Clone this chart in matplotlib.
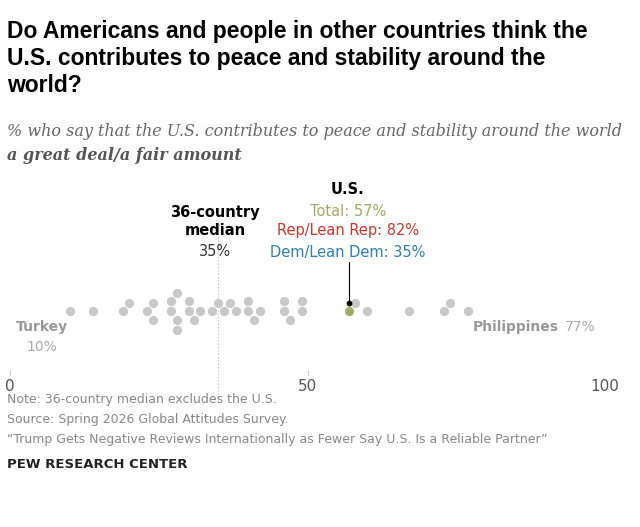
import matplotlib
matplotlib.use("Agg")
import matplotlib.pyplot as plt
import numpy as np

countries_vals = [10,14,19,24,27,30,32,35,38,40,42,46,49,60,67,73,77,
                  20,31,34,36,41,58,74,
                  24,27,46,49,
                  28,
                  23,28,30,37,40,47,
                  28]
us_total = 57
us_rep = 82
us_dem = 35
median = 35
ticks = [0, 50, 100]

W, H = 640, 527
fig = plt.figure(figsize=(W/100, H/100), dpi=100)
def fx(px): return px / W
def fy(py): return 1 - py / H

# axes: x px 10..605, y px 170..376 (baseline)
ax = fig.add_axes([fx(10), fy(376), fx(595), (376-170)/H])
ax.set_xlim(0, 100)
ax.set_ylim(0, 206)
ax.axis("off")
pxu = 5.95
base = 65
d = 10.0
placed = [(us_total*pxu, 0.0)]
pos = []
for v in sorted(countries_vals):
    x = v*pxu
    cands = sorted(set([0.0] + [s*k*0.5 for k in range(1, 100) for s in (1, -1)]), key=abs)
    for c in cands:
        if all((x-px)**2 + (c-py)**2 >= d*d for px, py in placed):
            placed.append((x, c)); pos.append((v, c)); break
ax.scatter([p[0] for p in pos], [base + p[1] for p in pos], s=44, color="#c8c8c8", lw=0, zorder=2)
ax.scatter([us_total], [base], s=44, color="#a3ad62", lw=0, zorder=3)
ax.plot([us_total, us_total], [base+8, 114], color="black", lw=0.8)
ax.scatter([us_total], [base+8], s=10, color="black", zorder=4)
ax.plot([median, median], [-25, 155], color="#bbbbbb", lw=0.8, ls=(0, (1, 2)), zorder=1, clip_on=False)
ax.axhline(0, color="#cccccc", lw=0.8)
for t in ticks:
    ax.plot([t, t], [0, 5], color="#cccccc", lw=0.8)
    ax.text(t, -3, str(t), ha="center", va="top", fontsize=11, color="#555555")

gray = "#999999"
fig.text(fx(42), fy(327), "Turkey", fontsize=10, fontweight="bold", color=gray, ha="center", va="center")
fig.text(fx(42), fy(347), "10%", fontsize=10, color="#aaaaaa", ha="center", va="center")
fig.text(fx(473), fy(327), "Philippines", fontsize=10, fontweight="bold", color=gray, ha="left", va="center")
fig.text(fx(596), fy(327), "77%", fontsize=10, color="#aaaaaa", ha="right", va="center")
fig.text(fx(215), fy(221), "36-country\nmedian", fontsize=10.5, fontweight="bold", color="black", ha="center", va="center", linespacing=1.25)
fig.text(fx(215), fy(252), "35%", fontsize=10.5, color="#333333", ha="center", va="center")
fig.text(fx(348), fy(189), "U.S.", fontsize=10.5, fontweight="bold", color="black", ha="center", va="center")
fig.text(fx(348), fy(211), "Total: 57%", fontsize=10.5, color="#a3ad62", ha="center", va="center")
fig.text(fx(348), fy(231), "Rep/Lean Rep: 82%", fontsize=10.5, color="#d0352c", ha="center", va="center")
fig.text(fx(348), fy(252), "Dem/Lean Dem: 35%", fontsize=10.5, color="#2b7fb5", ha="center", va="center")

fig.text(fx(7), fy(20), "Do Americans and people in other countries think the\nU.S. contributes to peace and stability around the\nworld?",
         fontsize=16.5, fontweight="bold", ha="left", va="top", linespacing=1.22, family="Liberation Sans")
fig.text(fx(7), fy(131), "% who say that the U.S. contributes to peace and stability around the world",
         fontsize=11.5, style="italic", color="#666666", family="DejaVu Serif", ha="left", va="center")
fig.text(fx(7), fy(156), "a great deal/a fair amount",
         fontsize=11.5, style="italic", fontweight="bold", color="#555555", family="DejaVu Serif", ha="left", va="center")
nc = "#888888"
fig.text(fx(7), fy(399), "Note: 36-country median excludes the U.S.", fontsize=9, color=nc, va="center")
fig.text(fx(7), fy(419), "Source: Spring 2026 Global Attitudes Survey.", fontsize=9, color=nc, va="center")
fig.text(fx(7), fy(439), "\u201cTrump Gets Negative Reviews Internationally as Fewer Say U.S. Is a Reliable Partner\u201d", fontsize=9, color=nc, va="center")
fig.text(fx(7), fy(465), "PEW RESEARCH CENTER", fontsize=9.5, fontweight="bold", color="#222222", va="center")
fig.savefig("out.png", dpi=100, facecolor="white")
